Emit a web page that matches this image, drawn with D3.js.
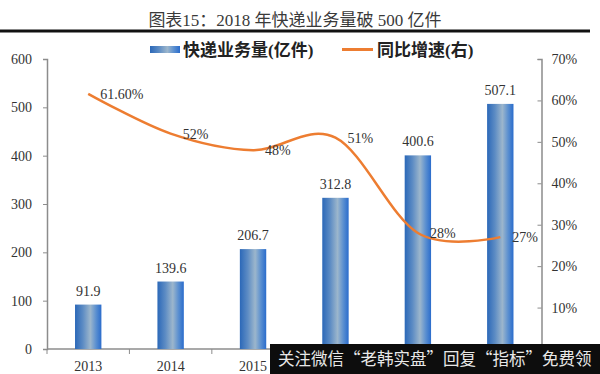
<!DOCTYPE html>
<html>
<head>
<meta charset="utf-8">
<script src="https://cdn.jsdelivr.net/npm/d3@7"></script>
<style>
	body { margin: 0; background: #fff; }
	svg { display: block; }
</style>
</head>
<body>
<div id="chart"></div>
<script>

var years = ['2013', '2014', '2015', '2016', '2017', '2018'];
var volume = [91.9, 139.6, 206.7, 312.8, 400.6, 507.1];
var growth = [61.6, 52, 48, 51, 28, 27];
var growthLabels = ['61.60%', '52%', '48%', '51%', '28%', '27%'];
var leftTicks = [0, 100, 200, 300, 400, 500, 600];
var rightTicks = [0, 10, 20, 30, 40, 50, 60, 70];

var width = 600;
var height = 374;
var plotLeft = 47;
var plotRight = 541.5;
var plotTop = 59;
var plotBottom = 349;

var serif = '"Liberation Serif", "Times New Roman", "Noto Sans CJK SC", serif';
var cjk = '"Liberation Serif", "Noto Sans CJK SC", sans-serif';
var orange = '#ed7d31';
var axisColor = '#8c8c8c';

var svg = d3.select('#chart')
		.append('svg')
		.attr('width', width)
		.attr('height', height);

// bar gradient
var defs = svg.append('defs');
var grad = defs.append('linearGradient')
		.attr('id', 'barGrad')
		.attr('x1', '0%').attr('x2', '100%')
		.attr('y1', '0%').attr('y2', '0%');
grad.append('stop').attr('offset', '0%').attr('stop-color', '#2b68b8');
grad.append('stop').attr('offset', '30%').attr('stop-color', '#5d8cc4');
grad.append('stop').attr('offset', '58%').attr('stop-color', '#9cb6cc');
grad.append('stop').attr('offset', '80%').attr('stop-color', '#5a8fd0');
grad.append('stop').attr('offset', '100%').attr('stop-color', '#2a6ccc');

// scales
var x = d3.scaleBand()
		.domain(years)
		.range([plotLeft, plotRight])
		.paddingInner(0.68)
		.paddingOuter(0.34);

var yL = d3.scaleLinear().domain([0, 600]).range([plotBottom, plotTop]);
var yR = d3.scaleLinear().domain([0, 70]).range([plotBottom, plotTop]);

// Title
svg.append('text')
		.attr('x', 295)
		.attr('y', 26)
		.attr('text-anchor', 'middle')
		.attr('font-family', cjk)
		.attr('font-size', '17px')
		.attr('fill', '#3a3a3a')
		.text('图表15：2018 年快递业务量破 500 亿件');

svg.append('line')
		.attr('x1', 0).attr('x2', 590)
		.attr('y1', 31).attr('y2', 31)
		.attr('stroke', '#111')
		.attr('stroke-width', 3);

// Legend
svg.append('rect')
		.attr('x', 150).attr('y', 46)
		.attr('width', 30).attr('height', 7)
		.attr('fill', 'url(#barGrad)');

svg.append('text')
		.attr('x', 183).attr('y', 56)
		.attr('font-family', cjk)
		.attr('font-size', '17px')
		.attr('font-weight', 'bold')
		.attr('fill', '#222')
		.text('快递业务量(亿件)');

svg.append('line')
		.attr('x1', 342).attr('x2', 373)
		.attr('y1', 49.5).attr('y2', 49.5)
		.attr('stroke', orange)
		.attr('stroke-width', 3);

svg.append('text')
		.attr('x', 377).attr('y', 56)
		.attr('font-family', cjk)
		.attr('font-size', '17px')
		.attr('font-weight', 'bold')
		.attr('fill', '#222')
		.text('同比增速(右)');

// Left axis
var axisL = svg.append('g')
		.attr('transform', 'translate(' + plotLeft + ',0)')
		.call(d3.axisLeft(yL).tickValues(leftTicks).tickSize(4).tickPadding(11));

// Right axis, ticks pointing inward
var axisR = svg.append('g')
		.attr('transform', 'translate(' + plotRight + ',0)')
		.call(d3.axisRight(yR).tickValues(rightTicks).tickSize(-4).tickPadding(10)
			.tickFormat(function (d) { return d + '%'; }));

[axisL, axisR].forEach(function (g) {
	g.select('.domain').attr('stroke', axisColor).attr('stroke-width', 1.5);
	g.selectAll('.tick line').attr('stroke', axisColor);
	g.selectAll('.tick text')
		.attr('font-family', serif)
		.attr('font-size', '14px')
		.attr('fill', '#333');
});

// X axis
svg.append('line')
		.attr('x1', plotLeft).attr('x2', plotRight)
		.attr('y1', plotBottom).attr('y2', plotBottom)
		.attr('stroke', axisColor)
		.attr('stroke-width', 1.5);

var bounds = years.map(function (d) { return x(d) - x.step() * x.paddingInner() / 2; });
bounds.push(plotRight);

svg.selectAll('.xtick')
		.data(bounds)
		.enter()
		.append('line')
		.attr('x1', function (d) { return d; })
		.attr('x2', function (d) { return d; })
		.attr('y1', plotBottom)
		.attr('y2', plotBottom + 5)
		.attr('stroke', axisColor);

svg.selectAll('.xlabel')
		.data(years)
		.enter()
		.append('text')
		.attr('x', function (d) { return x(d) + x.bandwidth() / 2; })
		.attr('y', 371)
		.attr('text-anchor', 'middle')
		.attr('font-family', serif)
		.attr('font-size', '14px')
		.attr('fill', '#333')
		.text(function (d) { return d; });

// Bars
svg.selectAll('.bar')
		.data(volume)
		.enter()
		.append('rect')
		.attr('x', function (d, i) { return x(years[i]); })
		.attr('y', function (d) { return yL(d); })
		.attr('width', x.bandwidth())
		.attr('height', function (d) { return plotBottom - yL(d); })
		.attr('fill', 'url(#barGrad)');

svg.selectAll('.barlabel')
		.data(volume)
		.enter()
		.append('text')
		.attr('x', function (d, i) { return x(years[i]) + x.bandwidth() / 2; })
		.attr('y', function (d) { return yL(d) - 9; })
		.attr('text-anchor', 'middle')
		.attr('font-family', serif)
		.attr('font-size', '14px')
		.attr('fill', '#333')
		.text(function (d) { return d.toFixed(1); });

// Growth line
var line = d3.line()
		.x(function (d, i) { return x(years[i]) + x.bandwidth() / 2; })
		.y(function (d) { return yR(d); })
		.curve(d3.curveCardinal.tension(0));

svg.append('path')
		.datum(growth)
		.attr('d', line)
		.attr('fill', 'none')
		.attr('stroke', orange)
		.attr('stroke-width', 2.5);

svg.selectAll('.linelabel')
		.data(growth)
		.enter()
		.append('text')
		.attr('x', function (d, i) { return x(years[i]) + x.bandwidth() / 2 + 12; })
		.attr('y', function (d) { return yR(d) + 5; })
		.attr('font-family', serif)
		.attr('font-size', '14px')
		.attr('fill', '#333')
		.text(function (d, i) { return growthLabels[i]; });

// Watermark banner
svg.append('rect')
		.attr('x', 270).attr('y', 344)
		.attr('width', 330).attr('height', 30)
		.attr('fill', '#0d0d0d');

svg.append('text')
		.attr('x', 278).attr('y', 365)
		.attr('font-family', '"Noto Sans CJK SC", sans-serif')
		.attr('font-size', '16.5px')
		.attr('fill', '#e8e8e8')
		.text('关注微信“老韩实盘”回复“指标”免费领');

</script>
</body>
</html>
